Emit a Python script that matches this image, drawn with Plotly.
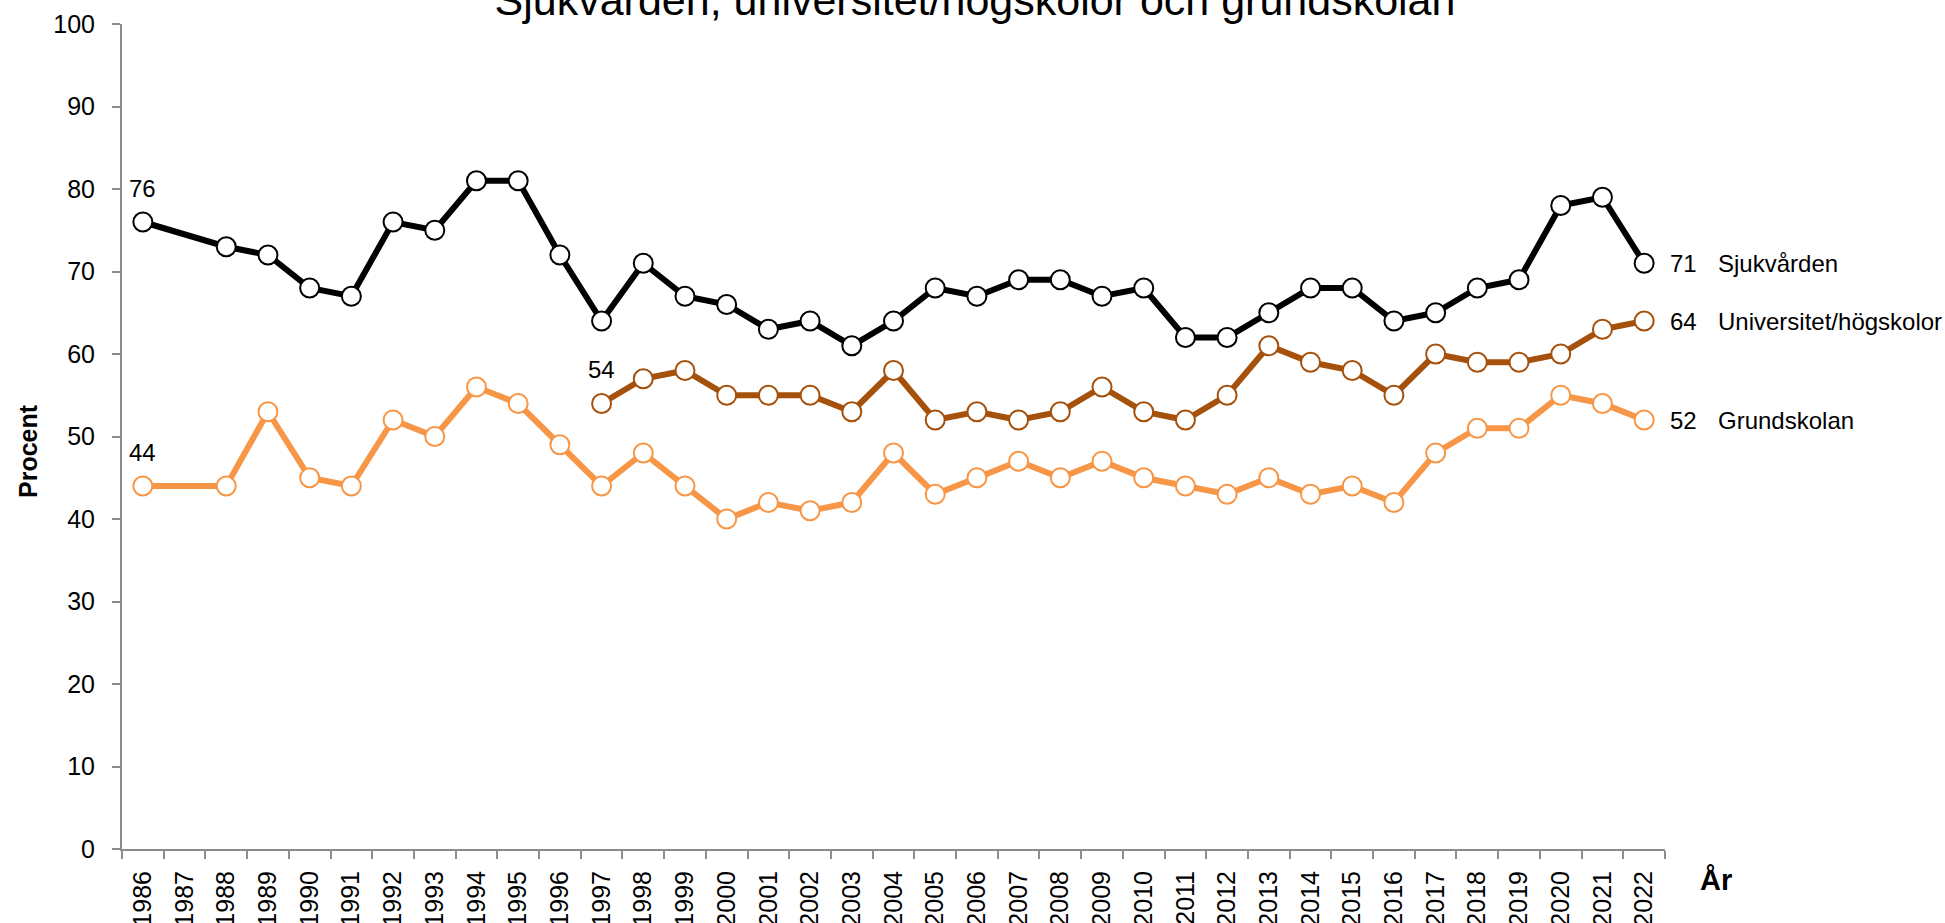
import plotly.graph_objects as go

years = [str(y) for y in range(1986, 2023)]

sjukvarden = [76, None, 73, 72, 68, 67, 76, 75, 81, 81, 72, 64, 71, 67, 66, 63, 64, 61, 64,
              68, 67, 69, 69, 67, 68, 62, 62, 65, 68, 68, 64, 65, 68, 69, 78, 79, 71]
universitet = [None] * 11 + [54, 57, 58, 55, 55, 55, 53, 58, 52, 53, 52, 53, 56, 53, 52, 55,
                             61, 59, 58, 55, 60, 59, 59, 60, 63, 64]
grundskolan = [44, None, 44, 53, 45, 44, 52, 50, 56, 54, 49, 44, 48, 44, 40, 42, 41, 42, 48,
               43, 45, 47, 45, 47, 45, 44, 43, 45, 43, 44, 42, 48, 51, 51, 55, 54, 52]

series = [
    ("Grundskolan", grundskolan, "#F79646"),
    ("Universitet/högskolor", universitet, "#A5500B"),
    ("Sjukvården", sjukvarden, "#000000"),
]

FONT = "Arial, Liberation Sans, sans-serif"
W, H = 1945, 923
ML, MR, MT, MB = 122, 280, 24, 74
pw = W - ML - MR
ph = H - MT - MB

fig = go.Figure()
for name, vals, col in series:
    fig.add_trace(go.Scatter(
        x=years, y=vals, name=name, mode="lines+markers",
        connectgaps=True,
        line=dict(color=col, width=6),
        marker=dict(symbol="circle", size=19, color="white",
                    line=dict(color=col, width=2)),
        showlegend=False,
    ))

annotations = []
last_i = len(years) - 1
# end labels
for name, vals, col in series:
    last = vals[-1]
    annotations.append(dict(x=last_i, y=last, xref="x", yref="y", text=str(last),
                            showarrow=False, xanchor="left", yanchor="middle", xshift=24,
                            font=dict(family=FONT, size=24, color="black")))
    annotations.append(dict(x=last_i, y=last, xref="x", yref="y", text=name,
                            showarrow=False, xanchor="left", yanchor="middle", xshift=72,
                            font=dict(family=FONT, size=24, color="black")))
# first-value labels
for name, vals, col in series:
    idx = next(i for i, v in enumerate(vals) if v is not None)
    annotations.append(dict(x=idx, y=vals[idx], xref="x", yref="y", text=str(vals[idx]),
                            showarrow=False, xanchor="center", yanchor="middle", yshift=34,
                            font=dict(family=FONT, size=24, color="black")))
# axis titles
annotations.append(dict(x=(28 - ML) / pw, y=(H - MB - 451) / ph, xref="paper", yref="paper",
                        text="<b>Procent</b>", showarrow=False, textangle=-90,
                        xanchor="center", yanchor="middle",
                        font=dict(family=FONT, size=25, color="black")))
annotations.append(dict(x=(1716 - ML) / pw, y=(H - MB - 880) / ph, xref="paper", yref="paper",
                        text="<b>År</b>", showarrow=False, xanchor="center", yanchor="middle",
                        font=dict(family=FONT, size=29, color="black")))

fig.update_layout(
    width=W, height=H,
    margin=dict(l=ML, r=MR, t=MT, b=MB, pad=0, autoexpand=False),
    paper_bgcolor="white", plot_bgcolor="white",
    font=dict(family=FONT, size=24, color="black"),
    title=dict(text="Sjukvården, universitet/högskolor och grundskolan",
               x=(975 - ML) / pw, xref="paper", xanchor="center",
               y=1.0, yref="container", yanchor="middle",
               font=dict(family=FONT, size=43, color="black")),
    annotations=annotations,
    xaxis=dict(type="category", showgrid=False, showline=True, linecolor="#8C8C8C",
               linewidth=2, ticks="outside", tickson="boundaries", ticklen=8,
               tickcolor="#8C8C8C", tickwidth=2, tickangle=-90, ticklabelstandoff=10,
               tickfont=dict(family=FONT, size=25, color="black"), automargin=False,
               range=[-0.5, 36.5], zeroline=False),
    yaxis=dict(range=[0, 100], dtick=10, showgrid=False, showline=True, linecolor="#8C8C8C",
               linewidth=2, ticks="outside", ticklen=8, tickcolor="#8C8C8C", tickwidth=2,
               ticklabelstandoff=12, automargin=False,
               tickfont=dict(family=FONT, size=25, color="black"), zeroline=False),
)

fig.write_html("out.html", config={"displayModeBar": False},
               post_script="document.body.style.margin='0';document.body.style.overflow='hidden';")
